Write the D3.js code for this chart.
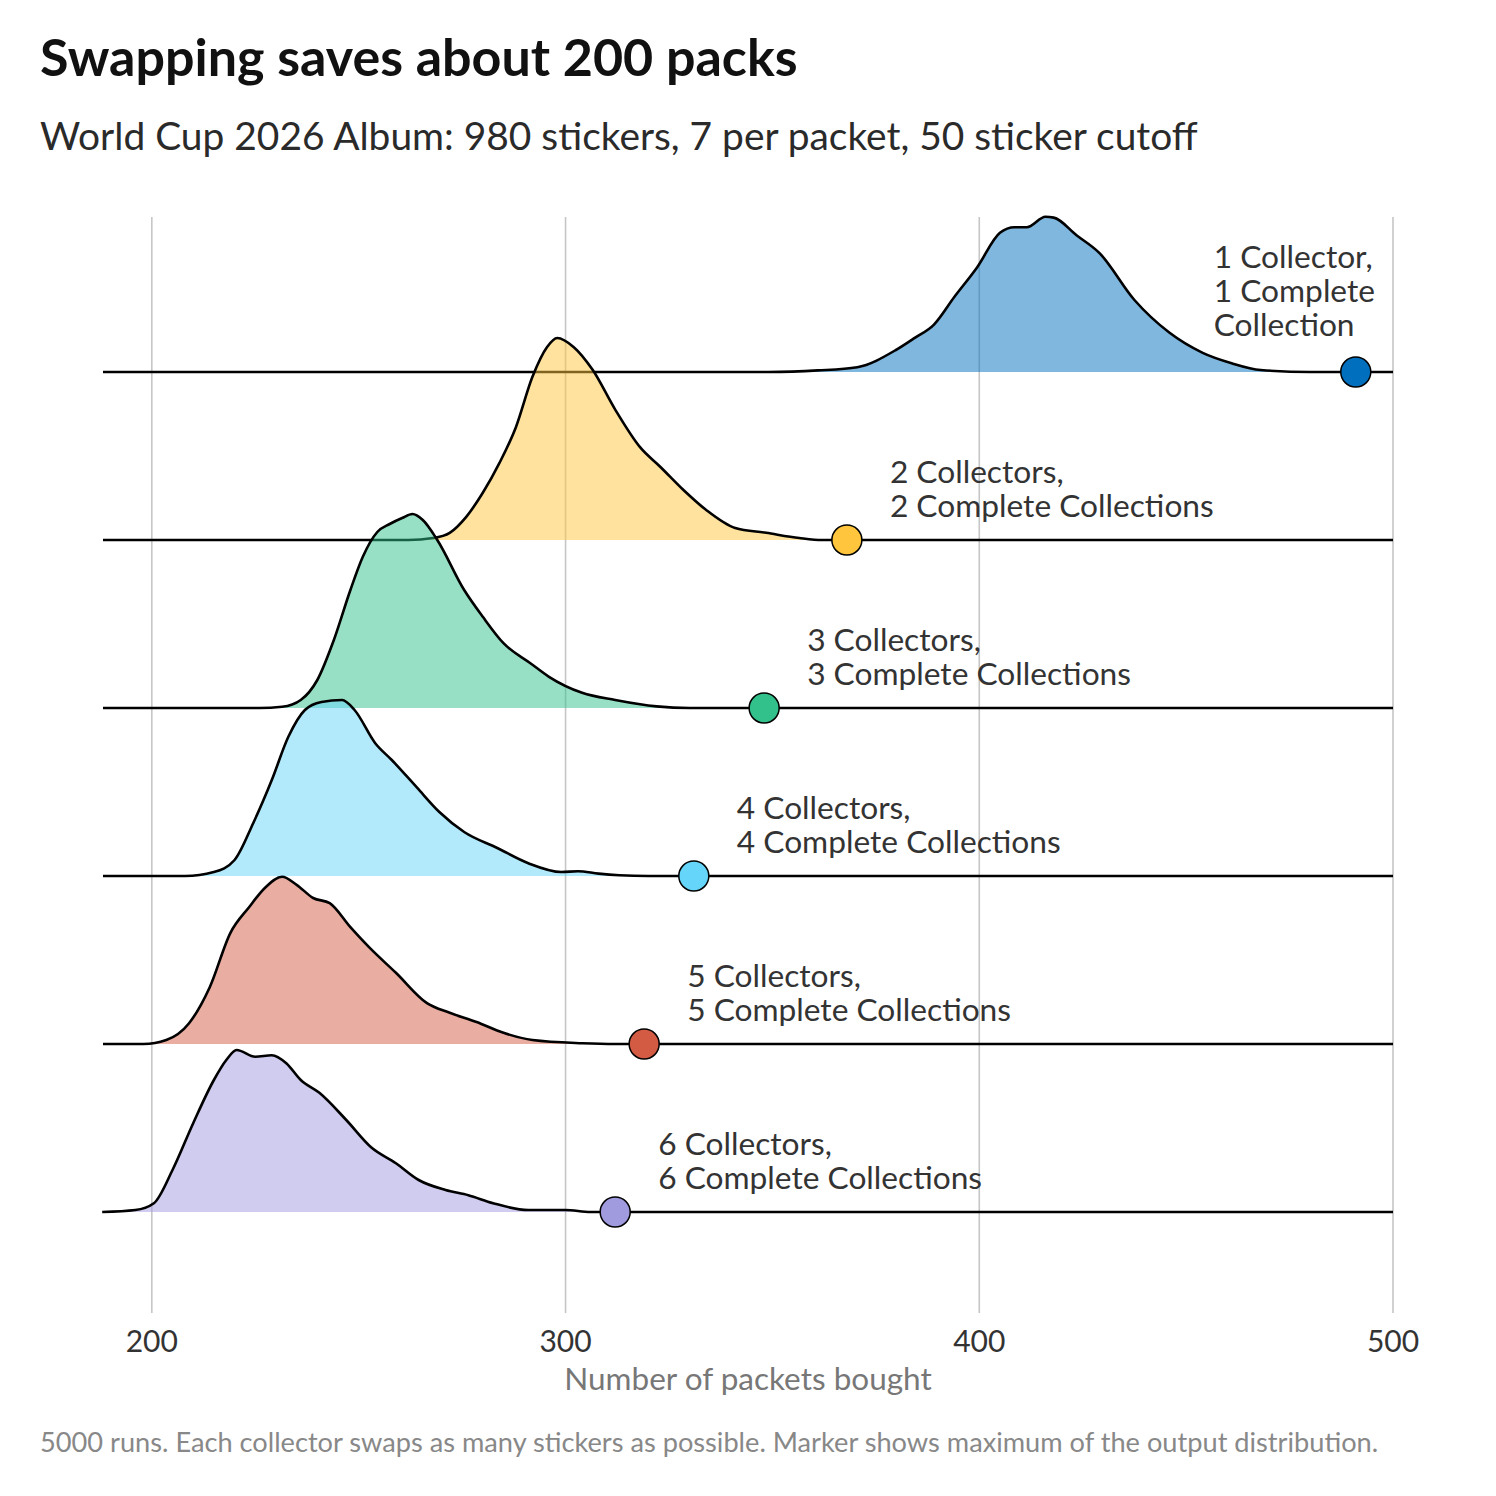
<!DOCTYPE html>
<meta charset="utf-8">
<style>
body { margin: 0; background: #fff; }
text { font-family: Lato, "Open Sans", sans-serif; }
</style>
<svg width="1496" height="1496"></svg>
<script src="https://d3js.org/d3.v7.min.js"></script>
<script>

// packets bought, per number of collectors
var collectors = [1, 2, 3, 4, 5, 6];
var maxPackets = [491, 368, 348, 331, 319, 312];
var xTicks = [200, 300, 400, 500];
var colors = ["#006fbe", "#ffc53d", "#32c18b", "#66d5fa", "#d35b44", "#a09adf"];

// density (x1000): [packets, density]
var dens1 = [[349,0],[361,0.2],[370.5,0.6],[380,2.8],[384.5,4.3],[389,5.9],[394,9.4],[399.5,13.1],[405,17.4],[408.5,18.1],[411.5,18.1],[416,19.4],[418,19.3],[423.5,17.1],[429,14.9],[437.5,9.0],[446,4.9],[454,2.4],[461,1.1],[468,0.25],[480,0]];
var dens2 = [[262,0],[268,0.25],[272,0.9],[276,2.9],[280,5.9],[284,9.6],[288,14.1],[292,20.4],[295.5,24.1],[298,25.25],[302,24.1],[306.5,21.3],[312,16.3],[318,11.6],[323,9.1],[328.5,6.25],[334,3.75],[341,1.5],[348.5,0.9],[356.5,0.25],[362,0]];
var dens3 = [[226,0],[231.5,0.15],[236,1.0],[240,3.5],[244,8.5],[248,14.75],[251,18.9],[254.5,22.0],[257.5,23.0],[260.5,23.75],[263,24.25],[265.5,23.5],[269,21.0],[275.5,14.75],[280,11.4],[285,8.1],[291.5,5.6],[296,3.9],[304,1.9],[312,1.0],[322,0.2],[330,0]];
var dens4 = [[208,0],[215,0.5],[220,2.0],[224.5,6.6],[229,12],[233,17.4],[237,20.75],[241,21.75],[246,22.0],[249,20.75],[254,16.6],[258,14.5],[264,11.1],[269.5,8.0],[275.5,5.5],[283.5,3.5],[291,1.6],[299,0.5],[303,0.6],[308,0.3],[313,0.1],[320,0]];
var dens5 = [[198,0],[203.5,0.5],[209,2.6],[214,7.1],[219,13.9],[223.5,17.1],[227.5,19.6],[231.5,20.9],[235,19.9],[239,18.25],[243,17.6],[248,14.6],[252.5,12.1],[259,8.9],[266.5,5.1],[272,3.9],[278.5,2.75],[285,1.4],[292,0.5],[304,0.1],[312,0]];
var dens6 = [[188,0],[196,0.25],[200.5,1.1],[205,5.25],[210,11.1],[215,16.5],[218,19],[220.5,20.25],[225,19.4],[229,19.6],[232.5,18.6],[236,16.5],[240.5,14.9],[247,11.5],[253,8.1],[259,6.1],[264.5,4.0],[271,2.75],[276.5,2.1],[282.5,1.1],[291,0.25],[300,0.25],[306,0]];
var densities = [dens1, dens2, dens3, dens4, dens5, dens6];

var svg = d3.select("svg");

var x = d3.scaleLinear().domain([188.2, 500]).range([103, 1393]);
var row = d3.scalePoint().domain(collectors).range([372, 1212]);
var h = d3.scaleLinear().domain([0, 21]).range([0, 168]);

// grid
svg.append("g").selectAll("line")
    .data(xTicks)
  .enter().append("line")
    .attr("x1", function(d) { return x(d); })
    .attr("x2", function(d) { return x(d); })
    .attr("y1", 217)
    .attr("y2", 1313)
    .attr("stroke", "#c6c6c6")
    .attr("stroke-width", 1.6);

// tick labels
svg.append("g").selectAll("text")
    .data(xTicks)
  .enter().append("text")
    .attr("x", function(d) { return x(d); })
    .attr("y", 1352)
    .attr("text-anchor", "middle")
    .attr("font-size", 30)
    .attr("fill", "#333")
    .text(function(d) { return d; });

svg.append("text")
    .attr("x", 748)
    .attr("y", 1390)
    .attr("text-anchor", "middle")
    .attr("font-size", 31.5)
    .attr("fill", "#777")
    .text("Number of packets bought");

// ridges
collectors.forEach(function(c, i) {
  var base = row(c);
  var pts = densities[i].slice();
  if (pts[0][0] > x.domain()[0]) pts.unshift([x.domain()[0], 0]);
  pts.push([x.domain()[1], 0]);

  var g = svg.append("g");

  g.append("path")
      .datum(densities[i])
      .attr("fill", colors[i])
      .attr("fill-opacity", 0.5)
      .attr("d", d3.area()
          .curve(d3.curveMonotoneX)
          .x(function(d) { return x(d[0]); })
          .y0(base)
          .y1(function(d) { return base - h(d[1]); }));

  g.append("path")
      .datum(pts)
      .attr("fill", "none")
      .attr("stroke", "#000")
      .attr("stroke-width", 2.6)
      .attr("d", d3.line()
          .curve(d3.curveMonotoneX)
          .x(function(d) { return x(d[0]); })
          .y(function(d) { return base - h(d[1]); }));

  g.append("circle")
      .attr("cx", x(maxPackets[i]))
      .attr("cy", base)
      .attr("r", 15)
      .attr("fill", colors[i])
      .attr("stroke", "#000")
      .attr("stroke-width", 1.5);

  var lines, lx, dy;
  if (c === 1) {
    lines = ["1 Collector,", "1 Complete", "Collection"];
    lx = x(maxPackets[i]) - 142;
    dy = -104;
  } else {
    lines = [c + " Collectors,", c + " Complete Collections"];
    lx = x(maxPackets[i]) + 43;
    dy = -57;
  }
  g.append("text")
      .attr("font-size", 31.7)
      .attr("fill", "#333")
    .selectAll("tspan")
      .data(lines)
    .enter().append("tspan")
      .attr("x", lx)
      .attr("y", function(d, k) { return base + dy + k * 34; })
      .text(function(d) { return d; });
});

svg.append("text")
    .attr("x", 40)
    .attr("y", 76)
    .attr("font-size", 52)
    .attr("font-weight", "bold")
    .attr("fill", "#111")
    .text("Swapping saves about 200 packs");

svg.append("text")
    .attr("x", 40)
    .attr("y", 150)
    .attr("font-size", 38.9)
    .attr("fill", "#2a2a2a")
    .text("World Cup 2026 Album: 980 stickers, 7 per packet, 50 sticker cutoff");

svg.append("text")
    .attr("x", 40)
    .attr("y", 1452)
    .attr("font-size", 27.2)
    .attr("fill", "#888")
    .text("5000 runs. Each collector swaps as many stickers as possible. Marker shows maximum of the output distribution.");

</script>
